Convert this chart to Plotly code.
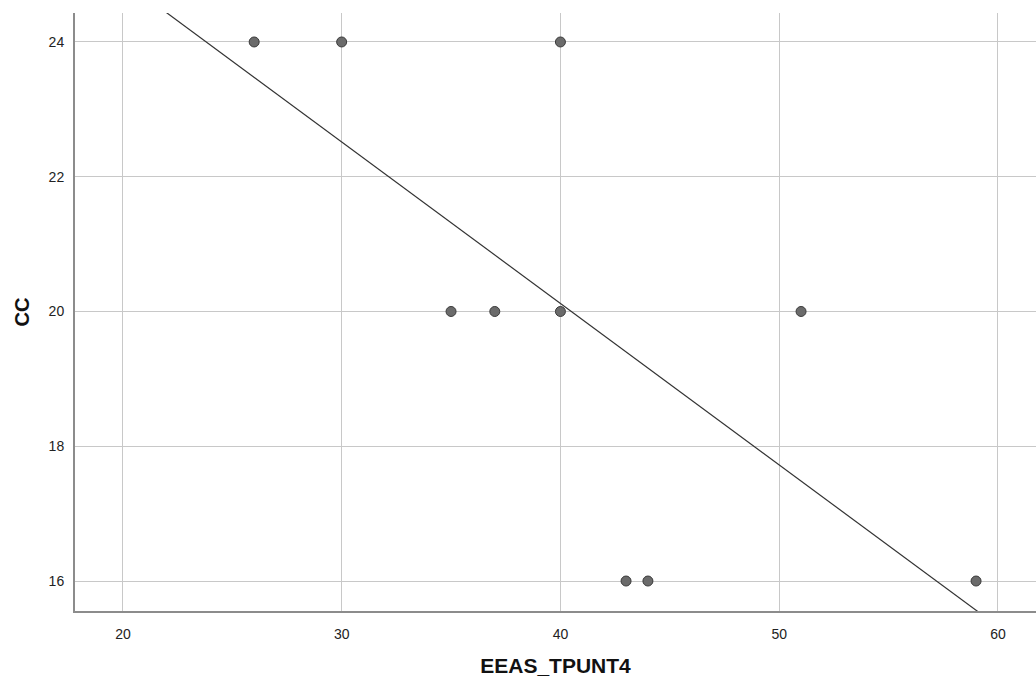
import numpy as np
import plotly.graph_objects as go

# Observed scores
eeas_tpunt4 = [26, 30, 40, 35, 37, 40, 51, 43, 44, 59]
cc = [24, 24, 24, 20, 20, 20, 20, 16, 16, 16]

x_ticks = [20, 30, 40, 50, 60]
y_ticks = [16, 18, 20, 22, 24]

x_range = [17.81, 61.74]
y_range = [15.555, 24.43]

# Least-squares fit line across the full horizontal range
slope, intercept = np.polyfit(eeas_tpunt4, cc, 1)
fit_x = np.array(x_range)
fit_y = slope * fit_x + intercept

fig = go.Figure()
fig.add_trace(go.Scatter(
    x=fit_x, y=fit_y, mode="lines",
    line=dict(color="#333333", width=1.2),
    hoverinfo="skip", showlegend=False,
))
fig.add_trace(go.Scatter(
    x=eeas_tpunt4, y=cc, mode="markers",
    marker=dict(size=10, color="#6b6b6b", line=dict(color="#3a3a3a", width=1)),
    showlegend=False,
))

fig.update_layout(
    width=1036, height=681,
    margin=dict(l=75, r=0, t=13, b=70),
    paper_bgcolor="white", plot_bgcolor="white",
    font=dict(family="Arial, Liberation Sans, sans-serif", size=14, color="#222222"),
    xaxis=dict(
        range=x_range, tickvals=x_ticks, showgrid=True,
        gridcolor="#c8c8c8", gridwidth=1.3, zeroline=False,
        showline=True, linecolor="#8c8c8c", linewidth=2,
        ticks="", ticklabelstandoff=9,
        title=dict(text="<b>EEAS_TPUNT4</b>", font=dict(size=21, color="#111111"), standoff=18),
    ),
    yaxis=dict(
        range=y_range, tickvals=y_ticks, showgrid=True,
        gridcolor="#c8c8c8", gridwidth=1.3, zeroline=False,
        showline=True, linecolor="#8c8c8c", linewidth=2,
        ticks="", ticklabelstandoff=6,
        title=dict(text="<b>CC</b>", font=dict(size=20, color="#111111"), standoff=14),
    ),
)

fig.write_html("out.html")
